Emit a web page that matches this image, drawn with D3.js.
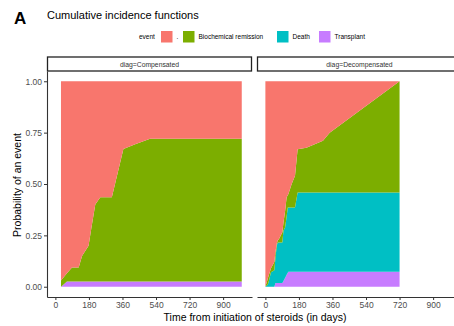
<!DOCTYPE html>
<html>
<head>
<meta charset="utf-8">
<script src="https://cdn.jsdelivr.net/npm/d3@7"></script>
<style>
  body { margin: 0; background: #fff; }
  text { font-family: "Liberation Sans", Arial, sans-serif; }
</style>
</head>
<body>
<div id="chart"></div>
<script>
// event levels, bottom of the stack first ("." is the remainder)
var events = ["Transplant", "Death", "Biochemical remission", "."];
var legendOrder = [".", "Biochemical remission", "Death", "Transplant"];
var colors = { ".": "#F8766D", "Biochemical remission": "#7CAE00", "Death": "#00BFC4", "Transplant": "#C77CFF" };

var panels = ["diag=Compensated", "diag=Decompensated"];
var xTicks = [0, 180, 360, 540, 720, 900];
var yTicks = [0, 0.25, 0.5, 0.75, 1];

// diag=Compensated
var compTime       = [30, 62, 89, 125, 143, 178, 192, 214, 241, 303, 365, 428, 508, 1000];
var compTransplant = [0, 0.026, 0.026, 0.026, 0.026, 0.026, 0.026, 0.026, 0.026, 0.026, 0.026, 0.026, 0.026, 0.026];
var compDeath      = [0, 0, 0, 0, 0, 0, 0, 0, 0, 0, 0, 0, 0, 0];
var compRemission  = [0.03, 0.04, 0.068, 0.068, 0.124, 0.174, 0.254, 0.374, 0.409, 0.409, 0.644, 0.668, 0.694, 0.694];

// diag=Decompensated
var decTime       = [0, 12, 16, 30, 48, 54, 61, 66, 73, 91, 97, 106, 114, 120, 123, 141, 159, 173, 220, 309, 345, 720];
var decTransplant = [0, 0, 0, 0, 0, 0.018, 0.018, 0.018, 0.018, 0.018, 0.028, 0.044, 0.058, 0.068, 0.073, 0.073, 0.073, 0.073, 0.073, 0.073, 0.073, 0.073];
var decDeath      = [0, 0.01, 0.018, 0.07, 0.08, 0.122, 0.182, 0.197, 0.197, 0.197, 0.244, 0.246, 0.282, 0.318, 0.313, 0.313, 0.313, 0.386, 0.386, 0.386, 0.386, 0.386];
var decRemission  = [0, 0.027, 0.032, 0.02, 0.04, 0.03, 0.01, 0.01, 0.017, 0.05, 0.041, 0.08, 0.095, 0.059, 0.064, 0.114, 0.154, 0.21, 0.218, 0.251, 0.291, 0.541];

function rows(time, tr, de, re) {
    return time.map(function(t, i) {
        var r = { time: t, "Transplant": tr[i], "Death": de[i], "Biochemical remission": re[i] };
        r["."] = 1 - tr[i] - de[i] - re[i];
        return r;
    });
}
var panelData = [
    rows(compTime, compTransplant, compDeath, compRemission),
    rows(decTime, decTransplant, decDeath, decRemission)
];

var W = 454, H = 326;
var svg = d3.select("#chart").append("svg").attr("width", W).attr("height", H);
svg.append("rect").attr("width", W).attr("height", H).attr("fill", "#fff");

var panelW = 205, panelTop = 71, panelBottom = 297;
var panelLeft = [47, 257];

var y = d3.scaleLinear().domain([-0.05, 1.05]).range([panelBottom, panelTop]);
var stack = d3.stack().keys(events);

panelData.forEach(function(data, p) {
    var x = d3.scaleLinear().domain([-45, 1055]).range([panelLeft[p], panelLeft[p] + panelW]);
    var area = d3.area()
        .x(function(d) { return x(d.data.time); })
        .y0(function(d) { return y(d[0]); })
        .y1(function(d) { return y(d[1]); });

    svg.append("g")
        .selectAll("path")
        .data(stack(data))
        .enter().append("path")
        .attr("fill", function(d) { return colors[d.key]; })
        .attr("d", area);

    // x axis
    var gx = svg.append("g")
        .attr("transform", "translate(0," + panelBottom + ")")
        .call(d3.axisBottom(x).tickValues(xTicks).tickSize(3).tickPadding(2).tickSizeOuter(0));
    gx.select(".domain").attr("stroke", "#333").attr("stroke-width", 1.1);
    gx.selectAll(".tick line").attr("stroke", "#333");
    gx.selectAll("text").attr("fill", "#4D4D4D").style("font-size", "8.5px");

    // strip
    svg.append("rect")
        .attr("x", panelLeft[p] + 0.5).attr("y", 57)
        .attr("width", panelW - 1).attr("height", 14)
        .attr("fill", "#fff").attr("stroke", "#222").attr("stroke-width", 1.3);
    svg.append("text")
        .attr("x", panelLeft[p] + panelW / 2).attr("y", 66.5)
        .attr("text-anchor", "middle")
        .attr("fill", "#333").style("font-size", "6.8px")
        .text(panels[p]);
});

// y axis (left panel only)
var gy = svg.append("g")
    .attr("transform", "translate(" + panelLeft[0] + ",0)")
    .call(d3.axisLeft(y).tickValues(yTicks).tickFormat(d3.format(".2f")).tickSize(3).tickPadding(2).tickSizeOuter(0));
gy.select(".domain").attr("stroke", "#333").attr("stroke-width", 1.1);
gy.selectAll(".tick line").attr("stroke", "#333");
gy.selectAll("text").attr("fill", "#4D4D4D").style("font-size", "8.5px");

// axis titles
svg.append("text")
    .attr("transform", "translate(21,185) rotate(-90)")
    .attr("text-anchor", "middle")
    .style("font-size", "10.5px")
    .text("Probability of an event");
svg.append("text")
    .attr("x", 255).attr("y", 321)
    .attr("text-anchor", "middle")
    .style("font-size", "10.5px")
    .text("Time from initiation of steroids (in days)");

// title and panel letter
svg.append("text")
    .attr("x", 14).attr("y", 24)
    .style("font-size", "17px").style("font-weight", "bold")
    .text("A");
svg.append("text")
    .attr("x", 47).attr("y", 19)
    .style("font-size", "11px")
    .text("Cumulative incidence functions");

// legend
var legend = svg.append("g").style("font-size", "6.5px");
legend.append("text").attr("x", 139).attr("y", 39).text("event");
var legendX = [161, 183, 277, 319];
legendOrder.forEach(function(k, i) {
    legend.append("rect")
        .attr("x", legendX[i]).attr("y", 31)
        .attr("width", 11.5).attr("height", 11.5)
        .attr("fill", colors[k]);
    legend.append("text")
        .attr("x", legendX[i] + 15.5).attr("y", 39)
        .text(k);
});
</script>
</body>
</html>
